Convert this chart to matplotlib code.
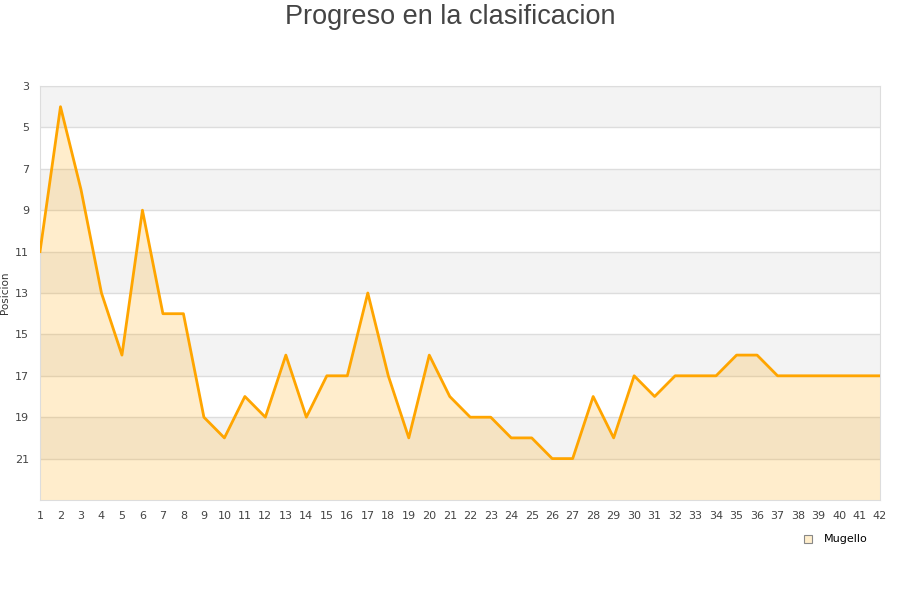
import matplotlib
matplotlib.use('Agg')
import matplotlib.pyplot as plt
from matplotlib.lines import Line2D

jornadas = list(range(1, 43))
posicion = [11, 4, 8, 13, 16, 9, 14, 14, 19, 20,
            18, 19, 16, 19, 17, 17, 13, 17, 20, 16,
            18, 19, 19, 20, 20, 21, 21, 18, 20, 17,
            18, 17, 17, 17, 16, 16, 17, 17, 17, 17,
            17, 17]
y_ticks = [3, 5, 7, 9, 11, 13, 15, 17, 19, 21]
equipo = "Mugello"

fig = plt.figure(figsize=(9, 6), dpi=100)
ax = fig.add_axes([40 / 900, 100 / 600, 840 / 900, 414 / 600])

# alternating bands
for i, y0 in enumerate(range(3, 23, 2)):
    if i % 2 == 0:
        ax.axhspan(y0, y0 + 2, color='#f3f3f3', zorder=0, lw=0)
for y in y_ticks:
    ax.axhline(y, color='#dddddd', lw=1, zorder=1)

ax.fill_between(jornadas, posicion, 23, color='#ffa500', alpha=0.2, lw=0, zorder=2)
ax.plot(jornadas, posicion, color='#ffa500', lw=2, zorder=3)

ax.set_xlim(1, 42)
ax.set_ylim(23, 3)
ax.set_xticks(jornadas)
ax.set_yticks(y_ticks)
ax.tick_params(length=0, labelsize=8, colors='#444444', pad=8)
for s in ax.spines.values():
    s.set_color('#dddddd')

ax.set_ylabel("Posicion", fontsize=7.5, color='#333333')
ax.yaxis.set_label_coords(-0.036, 0.5)
fig.text(0.5, 0.993, "Progreso en la clasificacion", ha='center', va='top',
         fontsize=19.5, color='#444444', family='Liberation Sans')

handle = Line2D([], [], marker='s', ls='', markersize=6,
                markerfacecolor='#ffeecc', markeredgecolor='#888888', markeredgewidth=0.8)
fig.legend([handle], [equipo], loc='center', bbox_to_anchor=(0.925, 0.101),
           frameon=False, fontsize=8, handletextpad=0.4)

fig.savefig('out.png', dpi=100)
